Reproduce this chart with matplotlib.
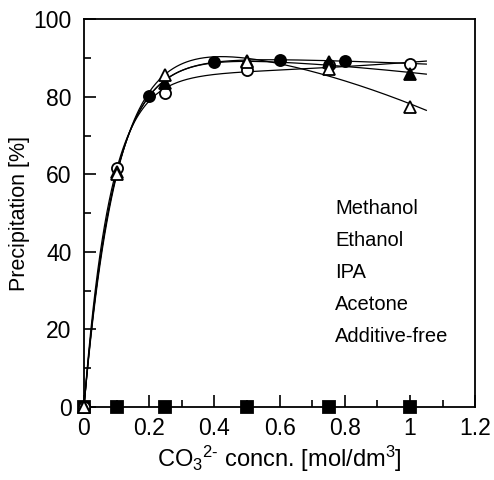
import numpy as np
import matplotlib
matplotlib.use('Agg')
import matplotlib.pyplot as plt
from matplotlib.ticker import MultipleLocator

plt.rcParams['font.family'] = ['Liberation Sans', 'DejaVu Sans']
plt.rcParams['mathtext.default'] = 'regular'

names = ['Methanol', 'Ethanol', 'IPA', 'Acetone', 'Additive-free']

x_meoh = [0, 0.2, 0.4, 0.6, 0.8]
y_meoh = [0, 80.2, 88.9, 89.5, 89.2]

x_etoh = [0, 0.1, 0.25, 0.5, 0.75, 1.0]
y_etoh = [0, 61.7, 81.1, 87.0, 88.3, 88.4]

x_ipa = [0, 0.1, 0.25, 0.5, 0.75, 1.0]
y_ipa = [0, 60.5, 83.5, 89.3, 89.0, 85.8]

x_acet = [0, 0.1, 0.25, 0.5, 0.75, 1.0]
y_acet = [0, 60.0, 85.5, 89.0, 87.2, 77.4]

x_free = [0, 0.1, 0.25, 0.5, 0.75, 1.0]
y_free = [0, 0, 0, 0, 0, 0]

# drawing order: additive-free first so the open triangle sits on top at x=0
series = [
    (x_free, y_free, 's', 'black', False),
    (x_meoh, y_meoh, 'o', 'black', True),
    (x_etoh, y_etoh, 'o', 'white', True),
    (x_ipa, y_ipa, '^', 'black', True),
    (x_acet, y_acet, '^', 'white', True),
]


def fit_curve(x, y, xs):
    # y = a*(1-exp(-k x)) + c*x^2, k by grid search
    x = np.asarray(x, float)
    y = np.asarray(y, float)
    best = None
    for k in np.linspace(2, 40, 381):
        A = np.column_stack([1 - np.exp(-k * x), x ** 2])
        coef, res, _, _ = np.linalg.lstsq(A, y, rcond=None)
        err = np.sum((A @ coef - y) ** 2)
        if best is None or err < best[0]:
            best = (err, k, coef)
    _, k, coef = best
    return coef[0] * (1 - np.exp(-k * xs)) + coef[1] * xs ** 2


fig = plt.figure(figsize=(4.94, 4.8), dpi=100)
ax = fig.add_axes([0.170, 0.152, 0.792, 0.808])

xs = np.linspace(0, 1.05, 300)
for i, (x, y, mk, fc, curve) in enumerate(series):
    if curve:
        ax.plot(xs, fit_curve(x, y, xs), color='black', lw=0.9, zorder=2)
    ax.plot(x, y, linestyle='none', marker=mk, mfc=fc, mec='black', mew=1.3,
            markersize=9 if mk == '^' else 8, zorder=3 + i, clip_on=False)

ax.set_xlim(0, 1.2)
ax.set_ylim(0, 100)
ax.xaxis.set_major_locator(MultipleLocator(0.2))
ax.xaxis.set_minor_locator(MultipleLocator(0.1))
ax.yaxis.set_major_locator(MultipleLocator(20))
ax.yaxis.set_minor_locator(MultipleLocator(10))
ax.xaxis.set_major_formatter(plt.FuncFormatter(lambda v, p: '%g' % v))
ax.tick_params(which='major', direction='in', length=8.5, width=1.2, labelsize=16.5)
ax.tick_params(axis='x', which='major', pad=7)
ax.tick_params(axis='y', which='major', pad=9)
ax.tick_params(which='minor', direction='in', length=5, width=1.2)
for s in ax.spines.values():
    s.set_linewidth(1.3)

ax.set_xlabel('CO$_3$$^{2\u2010}$ concn. [mol/dm$^3$]', fontsize=17, labelpad=3)
ax.set_ylabel('Precipitation [%]', fontsize=15.5, labelpad=2)

for j, name in enumerate(names):
    ax.text(0.642, 0.513 - j * 0.0825, name, transform=ax.transAxes,
            fontsize=14.5, va='center', ha='left')

fig.savefig('out.png', dpi=100)
